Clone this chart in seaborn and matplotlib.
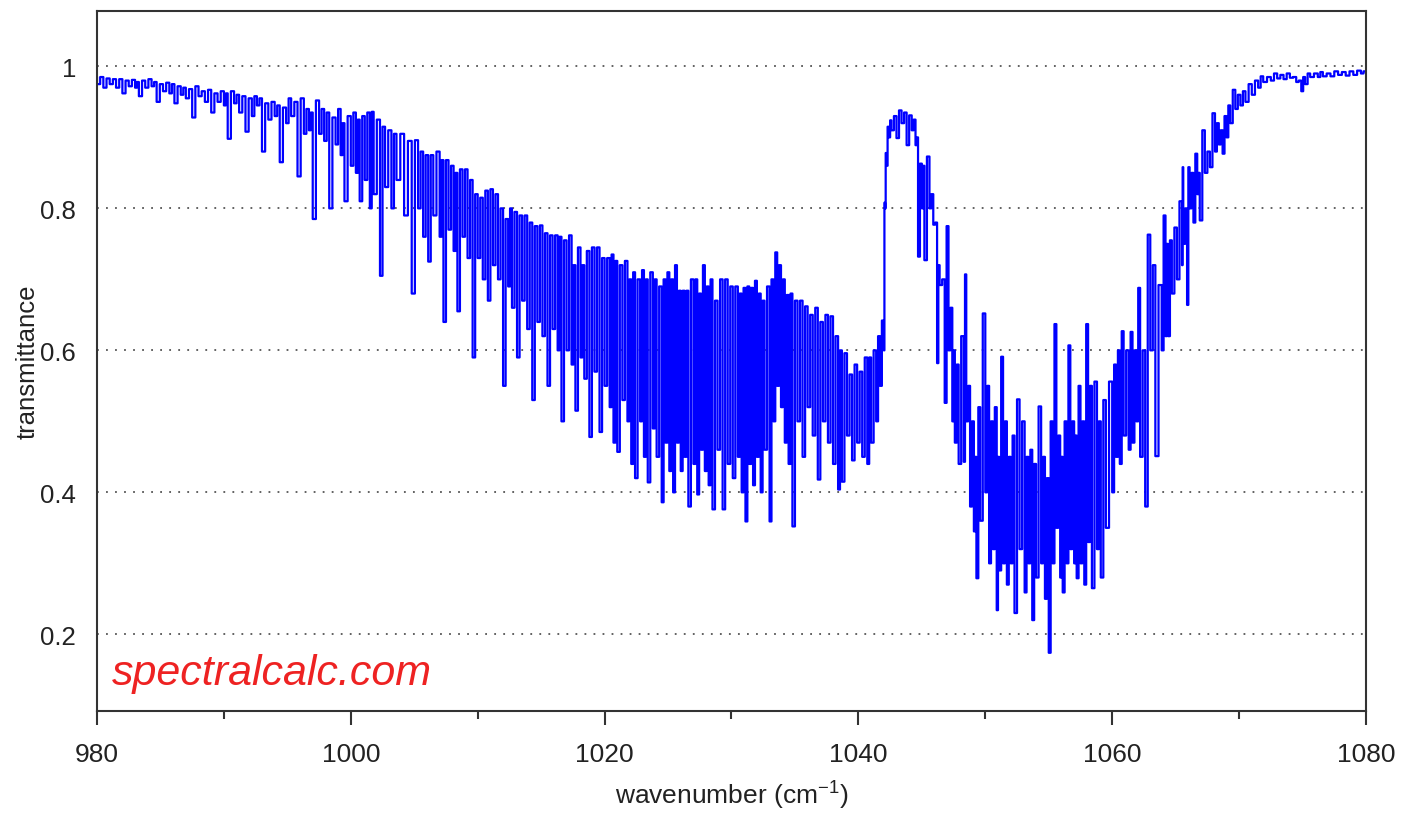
import numpy as np
import pandas as pd
import matplotlib
matplotlib.use("Agg")
import matplotlib.pyplot as plt
import seaborn as sns
from matplotlib.ticker import MultipleLocator

# Spectrum: for every line position the upper and lower
# value of the trace (the line goes from top down to bottom at each position)
line_wn = [
    980.0, 980.5, 981.0, 981.5, 982.0, 982.5, 983.0, 983.3, 983.8, 984.3,
    984.7, 985.2, 985.7, 986.1, 986.6, 987.0, 987.5, 988.0, 988.5, 989.0,
    989.5, 990.0, 990.3, 990.8, 991.2, 991.7, 992.2, 992.6, 993.0, 993.5,
    994.0, 994.4, 994.9, 995.3, 995.8, 996.3, 996.7, 997.0, 997.5, 997.9,
    998.3, 998.8, 999.2, 999.5, 1000.0, 1000.4, 1000.7, 1001.1, 1001.5, 1001.8,
    1002.3, 1002.7, 1003.2, 1003.6, 1004.2, 1004.8, 1005.3, 1005.7, 1006.1, 1006.5,
    1007.0, 1007.3, 1007.7, 1008.1, 1008.4, 1008.8, 1009.2, 1009.6, 1010.0, 1010.4,
    1010.8, 1011.2, 1011.6, 1012.0, 1012.4, 1012.7, 1013.1, 1013.5, 1013.9, 1014.3,
    1014.7, 1015.1, 1015.5, 1015.9, 1016.3, 1016.6, 1017.0, 1017.4, 1017.7, 1018.1,
    1018.4, 1018.8, 1019.2, 1019.6, 1020.0, 1020.4, 1020.7, 1021.0, 1021.4, 1021.8,
    1022.1, 1022.4, 1022.8, 1023.1, 1023.4, 1023.8, 1024.1, 1024.5, 1024.8, 1025.1,
    1025.4, 1025.7, 1026.0, 1026.3, 1026.6, 1027.0, 1027.3, 1027.6, 1027.9, 1028.2,
    1028.5, 1028.9, 1029.3, 1029.7, 1030.1, 1030.5, 1030.8, 1031.1, 1031.4, 1031.7,
    1032.0, 1032.3, 1032.6, 1033.0, 1033.3, 1033.6, 1033.9, 1034.2, 1034.5, 1034.8,
    1035.2, 1035.6, 1036.0, 1036.4, 1036.8, 1037.2, 1037.6, 1038.0, 1038.4, 1038.7,
    1039.1, 1039.5, 1039.9, 1040.3, 1040.7, 1041.0, 1041.4, 1041.7, 1042.0, 1042.1,
    1042.2, 1042.4, 1042.6, 1043.0, 1043.4, 1043.8, 1044.2, 1044.5, 1044.7, 1045.0,
    1045.2, 1045.6, 1045.9, 1046.2, 1046.4, 1046.8, 1047.1, 1047.4, 1047.6, 1047.9,
    1048.3, 1048.5, 1048.8, 1049.1, 1049.3, 1049.6, 1050.0, 1050.3, 1050.6, 1050.9,
    1051.1, 1051.4, 1051.7, 1052.0, 1052.3, 1052.7, 1053.1, 1053.4, 1053.7, 1054.0,
    1054.4, 1054.7, 1055.0, 1055.3, 1055.6, 1055.9, 1056.1, 1056.4, 1056.7, 1057.0,
    1057.2, 1057.5, 1057.8, 1058.1, 1058.4, 1058.8, 1059.1, 1059.5, 1060.0, 1060.3,
    1060.6, 1060.9, 1061.3, 1061.6, 1061.9, 1062.2, 1062.6, 1063.0, 1063.4, 1063.9,
    1064.2, 1064.4, 1064.7, 1065.1, 1065.5, 1065.6, 1065.9, 1066.1, 1066.4, 1066.7,
    1066.9, 1067.3, 1067.7, 1068.1, 1068.4, 1068.7, 1069.0, 1069.3, 1069.7, 1070.1,
    1070.5, 1071.0, 1071.5, 1071.9, 1072.5, 1073.0, 1073.5, 1074.0, 1074.5, 1074.9,
    1075.2, 1075.6, 1076.2, 1076.6, 1077.2, 1077.8, 1078.4, 1079.0, 1079.6, 1080.0,
]

line_top = [
    .985, .985, .983, .982, .982, .980, .981, .978, .980, .982,
    .978, .975, .977, .975, .972, .970, .968, .972, .965, .967,
    .962, .965, .962, .965, .960, .958, .955, .958, .955, .948,
    .950, .945, .942, .955, .950, .955, .940, .935, .952, .940,
    .935, .928, .940, .920, .930, .935, .925, .930, .935, .936,
    .925, .915, .910, .905, .905, .895, .896, .880, .875, .875,
    .880, .868, .868, .860, .850, .855, .855, .840, .820, .815,
    .825, .827, .820, .800, .785, .800, .795, .790, .790, .780,
    .775, .776, .765, .762, .762, .760, .755, .762, .720, .745,
    .720, .740, .745, .745, .730, .730, .735, .726, .720, .726,
    .700, .710, .700, .713, .700, .710, .700, .690, .700, .710,
    .700, .720, .684, .684, .684, .700, .700, .680, .720, .690,
    .700, .670, .700, .700, .690, .690, .680, .688, .690, .688,
    .698, .680, .670, .690, .700, .738, .720, .700, .678, .680,
    .670, .670, .662, .650, .660, .640, .650, .648, .620, .600,
    .596, .566, .580, .570, .590, .590, .600, .620, .642, .808,
    .878, .915, .924, .930, .938, .935, .931, .925, .900, .863,
    .860, .873, .820, .780, .720, .700, .775, .660, .600, .580,
    .620, .707, .550, .500, .450, .520, .652, .550, .500, .520,
    .450, .591, .500, .450, .480, .531, .500, .450, .460, .440,
    .521, .450, .420, .500, .637, .480, .450, .500, .607, .500,
    .480, .550, .500, .637, .550, .556, .500, .530, .556, .580,
    .600, .627, .600, .626, .600, .688, .600, .763, .720, .692,
    .790, .750, .755, .773, .810, .858, .800, .858, .850, .877,
    .850, .910, .880, .934, .920, .910, .930, .945, .967, .960,
    .965, .975, .980, .986, .985, .990, .988, .990, .985, .980,
    .985, .990, .990, .992, .990, .993, .992, .993, .994, .993,
]

line_bottom = [
    .975, .970, .975, .970, .962, .972, .970, .958, .970, .972,
    .950, .965, .962, .948, .960, .955, .928, .958, .950, .935,
    .950, .945, .898, .948, .935, .908, .930, .945, .880, .925,
    .930, .865, .920, .930, .845, .905, .910, .785, .905, .895,
    .800, .890, .875, .810, .860, .850, .810, .840, .800, .820,
    .705, .830, .800, .840, .790, .680, .800, .760, .725, .790,
    .760, .640, .770, .740, .655, .760, .730, .590, .730, .700,
    .670, .720, .700, .550, .690, .660, .590, .670, .630, .530,
    .640, .620, .550, .630, .600, .500, .600, .580, .515, .590,
    .560, .478, .570, .485, .550, .520, .470, .457, .530, .500,
    .440, .420, .500, .450, .414, .490, .450, .386, .470, .430,
    .400, .470, .430, .450, .380, .440, .397, .460, .430, .410,
    .376, .460, .376, .440, .420, .450, .400, .359, .440, .410,
    .450, .400, .460, .359, .500, .550, .520, .470, .440, .352,
    .500, .450, .520, .480, .418, .500, .470, .440, .404, .415,
    .480, .445, .470, .450, .440, .470, .500, .550, .600, .800,
    .860, .900, .910, .899, .920, .889, .910, .889, .732, .800,
    .727, .800, .777, .582, .692, .526, .600, .500, .470, .440,
    .443, .500, .380, .345, .279, .360, .400, .300, .320, .234,
    .290, .300, .270, .300, .230, .320, .259, .300, .220, .280,
    .300, .250, .174, .300, .350, .280, .259, .300, .320, .300,
    .279, .300, .270, .330, .265, .320, .280, .350, .400, .450,
    .440, .480, .460, .470, .500, .450, .380, .600, .451, .600,
    .620, .620, .680, .700, .720, .750, .664, .800, .780, .820,
    .783, .850, .858, .880, .890, .877, .900, .920, .940, .945,
    .950, .960, .970, .978, .980, .983, .982, .984, .978, .965,
    .975, .985, .985, .986, .986, .988, .987, .988, .990, .990,
]

y_ticks = [0.2, 0.4, 0.6, 0.8, 1.0]
y_tick_labels = ["0.2", "0.4", "0.6", "0.8", "1"]
x_ticks = [980, 1000, 1020, 1040, 1060, 1080]

# interleave top/bottom so the trace drops at every line
x = np.repeat(line_wn, 2)
y = np.column_stack([line_top, line_bottom]).ravel()
df = pd.DataFrame({"wavenumber": x, "transmittance": y})

sns.set_style("white")
plt.rcParams["font.family"] = ["Liberation Sans", "DejaVu Sans"]
plt.rcParams["mathtext.fontset"] = "custom"
plt.rcParams["mathtext.rm"] = "Liberation Sans"

fig = plt.figure(figsize=(14.04, 8.2), dpi=100)
ax = fig.add_axes([97 / 1404, 108 / 820, 1269 / 1404, 700 / 820])

sns.lineplot(data=df, x="wavenumber", y="transmittance", sort=False,
             estimator=None, color="#0000ff", lw=1.6, drawstyle="steps-mid", ax=ax)

ax.set_xlim(980, 1080)
ax.set_ylim(0.092, 1.078)

ax.set_xticks(x_ticks)
ax.xaxis.set_minor_locator(MultipleLocator(10))
ax.set_yticks(y_ticks)
ax.set_yticklabels(y_tick_labels)

ax.tick_params(axis="x", which="major", length=10, width=1.5, direction="out",
               color="#333333", labelsize=19, labelcolor="#222222", pad=12, bottom=True)
ax.tick_params(axis="x", which="minor", length=6, width=1.5, direction="out",
               color="#333333", bottom=True)
ax.tick_params(axis="y", length=0, labelsize=18.5, labelcolor="#222222", pad=15)

ax.yaxis.grid(True, linestyle=(0, (1, 4)), color="#555555", lw=1.3)
ax.xaxis.grid(False)

for s in ax.spines.values():
    s.set_color("#333333")
    s.set_linewidth(1.5)

ax.set_xlabel("wavenumber (cm$^{-1}$)", fontsize=19, color="#222222", labelpad=8)
ax.set_ylabel("transmittance", fontsize=18.5, color="#222222")
ax.yaxis.set_label_coords(-57 / 1269, 0.5)

ax.text(0.012, 0.039, "spectralcalc.com", transform=ax.transAxes, fontsize=31,
        style="italic", color="#ee2222", va="baseline", ha="left")

fig.savefig("out.png", dpi=100)
